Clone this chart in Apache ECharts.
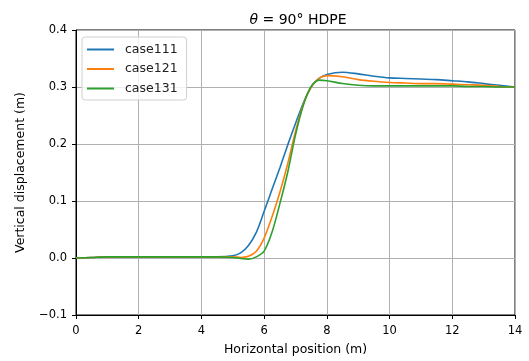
<!DOCTYPE html>
<html><head><meta charset="utf-8">
<script src="https://cdn.jsdelivr.net/npm/echarts@6/dist/echarts.min.js"></script>
<style>html,body{margin:0;padding:0;background:#fff}#c{width:529px;height:361px}</style>
</head><body><div id="c"></div>
<script>
const xs = [0,0.5,1,1.5,2,2.5,3,3.5,4,4.5,5,5.25,5.5,5.75,6,6.25,6.5,6.75,7,7.25,7.5,7.75,8,8.5,9,9.5,10,10.5,11,11.5,12,12.5,13,13.5,14];
const case111 = [0,0.001,0.002,0.002,0.002,0.002,0.002,0.002,0.002,0.002,0.004,0.009,0.022,0.045,0.082,0.12,0.158,0.198,0.236,0.272,0.300,0.315,0.322,0.326,0.323,0.319,0.316,0.315,0.314,0.313,0.311,0.309,0.306,0.303,0.300];
const case121 = [0,0.001,0.002,0.002,0.002,0.002,0.002,0.002,0.002,0.002,0.002,0.001,0.003,0.012,0.035,0.072,0.115,0.165,0.222,0.270,0.300,0.315,0.320,0.318,0.313,0.310,0.308,0.307,0.306,0.306,0.305,0.304,0.303,0.301,0.300];
const case131 = [0,0.001,0.002,0.002,0.002,0.002,0.002,0.002,0.002,0.002,0.001,-0.001,-0.002,0.002,0.012,0.045,0.095,0.15,0.216,0.268,0.301,0.312,0.311,0.306,0.303,0.302,0.302,0.302,0.302,0.302,0.302,0.301,0.301,0.300,0.300];
const seriesNames = ['case111','case121','case131'];
const colors = ['#1f77b4','#ff7f0e','#2ca02c'];
const font = 'DejaVu Sans';
const chart = echarts.init(document.getElementById('c'));
const all = [case111, case121, case131];
chart.setOption({
  animation:false,
  color: colors,
  title:{text:'{i|θ} = 90° HDPE', left:293, top:8, textAlign:'center',
    textStyle:{fontFamily:font,fontSize:14,fontWeight:'normal',color:'#000',
      rich:{i:{fontStyle:'italic',fontFamily:font,fontSize:14,color:'#000'}}}},
  legend:{left:82, top:37, orient:'vertical', itemWidth:27, itemHeight:2, itemGap:6.5,
    padding:[6,9,5,5], borderColor:'#d0d0d0', borderWidth:1, borderRadius:3, backgroundColor:'rgba(255,255,255,0.8)',
    icon:'rect', textStyle:{fontFamily:font,fontSize:12.5,color:'#222', padding:[0,0,0,6]}, data:seriesNames},
  grid:{left:76, right:14, top:30, bottom:45, show:true, borderColor:'#000', borderWidth:1},
  xAxis:{type:'value', min:0, max:14, interval:2,
    name:'Horizontal position (m)', nameLocation:'middle', nameGap:28,
    nameTextStyle:{fontFamily:font,fontSize:12.5,color:'#000'},
    axisLine:{show:true,onZero:false,lineStyle:{color:'#000'}}, axisTick:{show:true,length:4,lineStyle:{color:'#000'}},
    axisLabel:{fontFamily:font,fontSize:11.5,color:'#000',margin:10},
    splitLine:{show:true,lineStyle:{color:'#b0b0b0',width:1}}},
  yAxis:{type:'value', min:-0.1, max:0.4, interval:0.1,
    name:'Vertical displacement (m)', nameLocation:'middle', nameGap:49,
    nameTextStyle:{fontFamily:font,fontSize:12.5,color:'#000'},
    axisLine:{show:true,onZero:false,lineStyle:{color:'#000'}}, axisTick:{show:true,length:4,lineStyle:{color:'#000'}},
    axisLabel:{fontFamily:font,fontSize:11.5,color:'#000',margin:9,
      formatter:v=>{const s=Math.abs(v).toFixed(1);return v< -1e-9?'\u2212'+s:s;}},
    splitLine:{show:true,lineStyle:{color:'#b0b0b0',width:1}}},
  series: seriesNames.map((n,i)=>({name:n,type:'line',showSymbol:false,smooth:0.3,
    lineStyle:{width:1.6,color:colors[i]}, data: xs.map((x,j)=>[x,all[i][j]])}))
});
</script></body></html>
